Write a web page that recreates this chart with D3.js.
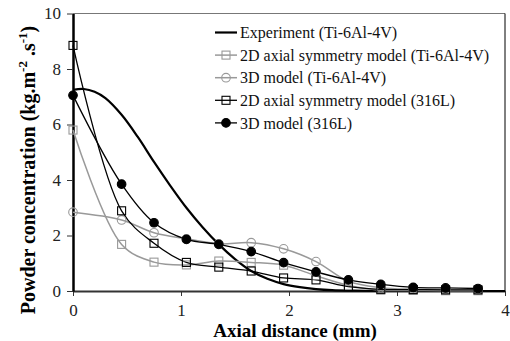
<!DOCTYPE html>
<html><head><meta charset="utf-8">
<script src="https://cdn.jsdelivr.net/npm/d3@7"></script>
<style>body{margin:0;background:#fff}svg{display:block}</style>
</head><body><svg id="c" width="510" height="341" font-family="Liberation Serif"></svg>
<script>
const modelX = [0, 0.45, 0.75, 1.05, 1.35, 1.65, 1.95, 2.25, 2.55, 2.85, 3.15, 3.45, 3.75];
const expX = [0,0.1,0.2,0.3,0.45,0.6,0.75,0.9,1.05,1.2,1.35,1.5,1.65,1.8,1.95,2.1,2.25,2.4,2.6,2.8,3.0,3.5,4.0];
const expTi = [7.25,7.28,7.18,6.95,6.35,5.55,4.65,3.8,3.0,2.3,1.68,1.15,0.72,0.44,0.25,0.14,0.07,0.03,0.01,0,0,0,0];
const axi2dTi = [5.8, 1.68, 1.04, 0.94, 1.08, 1.03, 0.93, 0.55, 0.2, 0.03, 0.02, 0.01, 0.01];
const model3dTi = [2.84, 2.56, 2.1, 1.88, 1.7, 1.74, 1.52, 1.06, 0.35, 0.12, 0.06, 0.04, 0.03];
const axi2d316 = [8.85, 2.89, 1.72, 1.03, 0.86, 0.72, 0.47, 0.40, 0.16, 0.06, 0.05, 0.04, 0.04];
const model3d316 = [7.05, 3.85, 2.46, 1.86, 1.68, 1.42, 1.02, 0.69, 0.40, 0.24, 0.13, 0.11, 0.09];
const xTicks = [0,1,2,3,4];
const yTicks = [0,2,4,6,8,10];
const names = ["Experiment (Ti-6Al-4V)","2D axial symmetry model (Ti-6Al-4V)","3D model (Ti-6Al-4V)","2D axial symmetry model (316L)","3D model (316L)"];

const svg = d3.select("#c");
const L=73,R=505,T=13.5,B=291;
const x = d3.scaleLinear().domain([0,4]).range([L,R]);
const y = d3.scaleLinear().domain([0,10]).range([B,T]);
const FONT='Liberation Serif';

svg.append("line").attr("x1",L).attr("x2",R).attr("y1",T).attr("y2",T).attr("stroke","#777").attr("stroke-width",1);
svg.append("line").attr("x1",R).attr("x2",R).attr("y1",T).attr("y2",B).attr("stroke","#000").attr("stroke-width",1);

const xa = svg.append("g").attr("transform",`translate(0,${B})`).call(d3.axisBottom(x).tickValues(xTicks).tickSize(5).tickSizeOuter(0).tickFormat(d3.format("d")));
xa.attr("font-family",FONT);
xa.select(".domain").attr("stroke","#333").attr("stroke-width",2);
xa.selectAll(".tick line").attr("stroke","#333");
xa.selectAll("text").attr("font-family",FONT).attr("font-size",17).attr("fill","#222").attr("y",19.5).attr("dy","0.35em");
const ya = svg.append("g").attr("transform",`translate(${L},0)`).call(d3.axisLeft(y).tickValues(yTicks).tickSize(6).tickSizeOuter(0));
ya.attr("font-family",FONT);
ya.select(".domain").attr("stroke","#000").attr("stroke-width",2.5);
ya.selectAll(".tick line").attr("stroke","#333");
ya.selectAll("text").attr("font-family",FONT).attr("font-size",17).attr("fill","#222").attr("x",-12);

svg.append("text").attr("font-family",FONT).attr("x",295).attr("y",336.5).attr("text-anchor","middle").attr("font-size",19).attr("font-weight","bold").text("Axial distance (mm)");
const yt = svg.append("text").attr("font-family",FONT).attr("transform","translate(35,170) rotate(-90)").attr("text-anchor","middle").attr("font-size",20).attr("font-weight","bold");
yt.append("tspan").text("Powder concentration (kg.m");
yt.append("tspan").attr("dy",-8).attr("font-size",13).text("-2");
yt.append("tspan").attr("dy",8).text(" .s");
yt.append("tspan").attr("dy",-8).attr("font-size",13).text("-1");
yt.append("tspan").attr("dy",8).text(")");

const curve = d3.curveCatmullRom.alpha(0.5);
const line = d3.line().x(d=>x(d[0])).y(d=>y(d[1])).curve(curve);
const GRAY="#999";
const series = [
 {xs:expX, ys:expTi, color:"#000", w:2.2, marker:null},
 {xs:modelX, ys:axi2dTi, color:GRAY, w:1.5, marker:"square", fill:"none"},
 {xs:modelX, ys:model3dTi, color:GRAY, w:1.5, marker:"circle", fill:"none"},
 {xs:modelX, ys:axi2d316, color:"#000", w:1.3, marker:"square", fill:"none"},
 {xs:modelX, ys:model3d316, color:"#000", w:1.3, marker:"circle", fill:"#000"},
];
function drawMarker(g,s,cx,cy){
  if(s.marker==="square") g.append("rect").attr("x",cx-4).attr("y",cy-4).attr("width",8).attr("height",8).attr("fill",s.fill).attr("stroke",s.color).attr("stroke-width",1.1);
  else if(s.marker==="circle") g.append("circle").attr("cx",cx).attr("cy",cy).attr("r",4.3).attr("fill",s.fill).attr("stroke",s.color).attr("stroke-width",1.1);
}
series.forEach(s=>{
  const pts = s.xs.map((v,i)=>[v,s.ys[i]]);
  svg.append("path").attr("d",line(pts)).attr("fill","none").attr("stroke",s.color).attr("stroke-width",s.w);
});
series.forEach(s=>{
  const g=svg.append("g");
  s.xs.forEach((v,i)=>drawMarker(g,s,x(v),y(s.ys[i])));
});
const lg = svg.append("g");
names.forEach((n,i)=>{
  const s=series[i], yy=32.5+i*22.6;
  lg.append("line").attr("x1",215).attr("x2",237).attr("y1",yy).attr("y2",yy).attr("stroke",s.color).attr("stroke-width",s.w);
  drawMarker(lg,s,226,yy);
  lg.append("text").attr("font-family",FONT).attr("x",240).attr("y",yy).attr("dy","0.35em").attr("font-size",16).attr("fill","#111").text(n);
});
</script></body></html>
